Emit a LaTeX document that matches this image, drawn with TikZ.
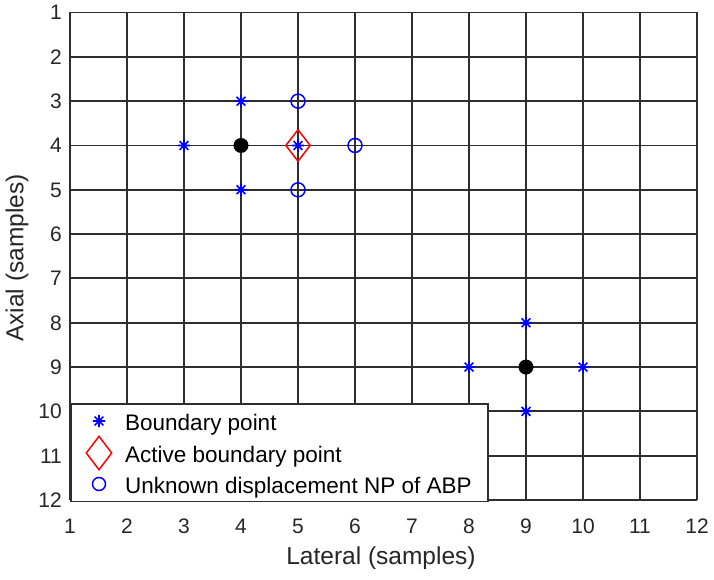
\documentclass[tikz,border=0pt]{standalone}
\usepackage{fontspec}
\setmainfont{Liberation Sans}
\usetikzlibrary{shapes.geometric, positioning}

\begin{document}
\begin{tikzpicture}[
    x=1pt, y=-1pt,
    gridline/.style={draw=black!82, line width=1.9pt},
    tick/.style={inner sep=0pt, font=\fontsize{21}{25}\selectfont, text=black!85},
    axtitle/.style={inner sep=0pt, font=\fontsize{24.5}{29}\selectfont, text=black!85},
    legtext/.style={inner sep=0pt, anchor=base west, font=\fontsize{22.5}{27}\selectfont},
    bpt/.style={circle, minimum size=12.5pt, inner sep=0pt,
        path picture={\draw[blue, line width=1.6pt]
            (path picture bounding box.north) -- (path picture bounding box.south)
            (path picture bounding box.west) -- (path picture bounding box.east)
            (path picture bounding box.north west) -- (path picture bounding box.south east)
            (path picture bounding box.north east) -- (path picture bounding box.south west);}},
    abp/.style={diamond, draw=red, line width=1.5pt, inner sep=0pt,
        minimum width=25pt, minimum height=32pt},
    unk/.style={circle, draw=blue, line width=1.5pt, inner sep=0pt, minimum size=14pt},
    dot/.style={circle, fill=black, inner sep=0pt, minimum size=15pt}
]
\useasboundingbox (0,0) rectangle (714,580);

\begin{scope}[shift={(13,-31.82)}, x=57pt, y=-44.32pt]

% Grid
\foreach \i in {1,...,12} {
    \draw[gridline] (\i,1) -- (\i,12);
    \draw[gridline] (1,\i) -- (12,\i);
}

% Tick labels
\foreach \i in {1,...,12} {
    \node[tick, anchor=base] (xt\i) at ([yshift=-33pt]\i,12) {\i};
    \node[tick, anchor=base east] (yt\i) at ([xshift=-8pt, yshift=-7.5pt]1,\i) {\i};
}

% Boundary points around the first dot
\node[bpt] (b1) at (4,3) {};
\node[bpt] (b2) at (3,4) {};
\node[bpt] (b3) at (5,4) {};
\node[bpt] (b4) at (4,5) {};

% Boundary points around the second dot
\node[bpt] (b5) at (9,8) {};
\node[bpt] (b6) at (8,9) {};
\node[bpt] (b7) at (10,9) {};
\node[bpt] (b8) at (9,10) {};

% Active boundary point
\node[abp] (a1) at (5,4) {};

% Unknown displacement neighbours
\node[unk] (u1) at (5,3) {};
\node[unk] (u2) at (6,4) {};
\node[unk] (u3) at (5,5) {};

% Dots
\node[dot] (d1) at (4,4) {};
\node[dot] (d2) at (9,9) {};

\end{scope}

% Axis titles
\node[axtitle] (xlab) at (381,558) {Lateral (samples)};
\node[axtitle, rotate=90] (ylab) at (17,258) {Axial (samples)};

% Legend
\draw[fill=white, draw=black!82, line width=1.4pt] (71,404) rectangle (488,501.5);
\node[bpt] (lb) at (99,421) {};
\node[abp, minimum width=26pt, minimum height=34pt] (la) at (99,453) {};
\node[unk, minimum size=13pt] (lu) at (99,484) {};
\node[legtext] (lbt) at (125,430) {Boundary point};
\node[legtext] (lat) at (125,462) {Active boundary point};
\node[legtext] (lut) at (125,493) {Unknown displacement NP of ABP};

\end{tikzpicture}
\end{document}
